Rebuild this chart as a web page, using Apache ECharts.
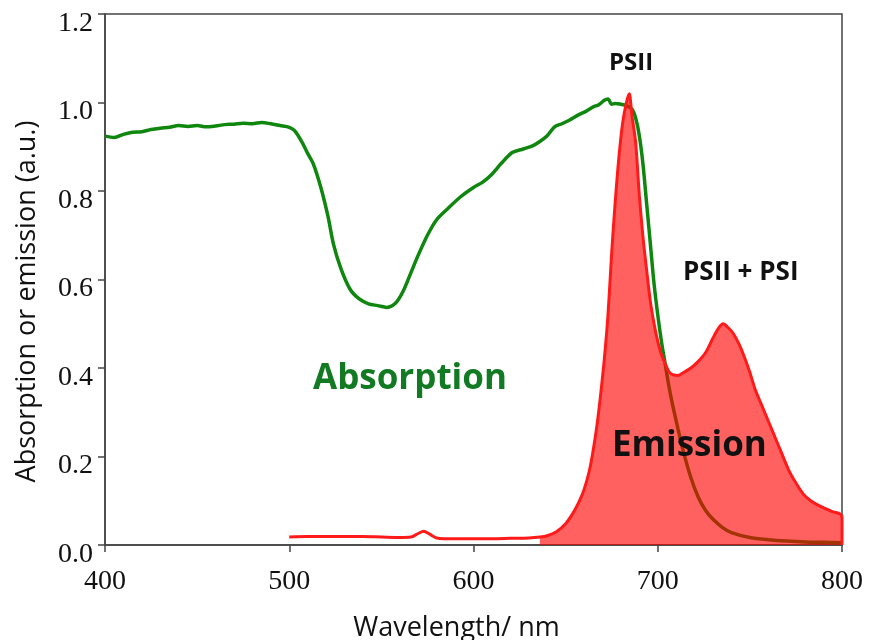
<!DOCTYPE html>
<html>
<head>
<meta charset="utf-8">
<script src="https://cdn.jsdelivr.net/npm/echarts@6/dist/echarts.min.js"></script>
<style>
  html, body { margin: 0; padding: 0; background: #fff; }
  #main { width: 870px; height: 640px; }
</style>
</head>
<body>
<div id="main"></div>
<script>
// absorption spectrum (green)
var absWl = [400, 405, 410, 415, 420, 425, 430, 435, 440, 445, 450, 455, 460, 465, 470, 475, 480, 485, 490, 495,
  500, 503, 507, 510, 513, 517, 521, 524, 528, 533, 538, 543, 548, 553, 558, 562, 566, 570, 575, 580,
  586, 593, 600, 605, 610, 615, 621, 627, 632, 636, 640, 644, 648, 652, 657, 661, 665, 668, 671, 673,
  675, 677, 680, 683, 686, 688, 690, 692, 694, 696, 698, 700, 702, 704, 706, 708, 711, 714, 718, 722,
  726, 730, 735, 740, 750, 760, 770, 780, 790, 800];
var absVal = [0.924, 0.921, 0.928, 0.933, 0.934, 0.939, 0.942, 0.944, 0.948, 0.946, 0.948, 0.945, 0.947, 0.950, 0.951, 0.953, 0.952, 0.955, 0.952, 0.948,
  0.944, 0.936, 0.910, 0.885, 0.862, 0.810, 0.743, 0.680, 0.625, 0.578, 0.556, 0.545, 0.541, 0.537, 0.548, 0.575, 0.615, 0.655, 0.700, 0.735,
  0.760, 0.787, 0.808, 0.820, 0.838, 0.862, 0.887, 0.895, 0.902, 0.912, 0.925, 0.945, 0.952, 0.960, 0.972, 0.980, 0.990, 0.995, 1.005, 1.008,
  0.996, 0.998, 0.996, 0.993, 0.985, 0.965, 0.925, 0.860, 0.770, 0.680, 0.590, 0.520, 0.460, 0.410, 0.360, 0.318, 0.262, 0.210, 0.152, 0.108,
  0.078, 0.058, 0.040, 0.028, 0.017, 0.012, 0.009, 0.007, 0.006, 0.005];

// fluorescence emission spectrum (red)
var emWl = [500, 510, 520, 530, 540, 550, 560, 566, 570, 573, 576, 580, 590, 600, 610, 620, 630, 636, 640, 645,
  650, 654, 657, 660, 663, 665, 667, 669, 671, 673, 675, 677, 679, 681, 683, 684.5, 686, 688, 690, 692,
  694, 696, 698, 700, 702, 704, 706, 708, 711, 714, 718, 722, 726, 730, 733, 735.5, 738, 741, 744, 747,
  750, 753, 756, 759, 763, 767, 771, 775, 779, 783, 787, 791, 795, 799, 800, 800];
var emVal = [0.018, 0.019, 0.019, 0.019, 0.019, 0.018, 0.017, 0.018, 0.026, 0.031, 0.025, 0.016, 0.014, 0.014, 0.014, 0.015, 0.016, 0.018, 0.021, 0.030,
  0.048, 0.072, 0.095, 0.125, 0.170, 0.215, 0.270, 0.340, 0.420, 0.520, 0.660, 0.780, 0.880, 0.955, 1.000, 1.020, 0.970, 0.910, 0.790, 0.695,
  0.620, 0.550, 0.500, 0.460, 0.430, 0.410, 0.392, 0.385, 0.383, 0.390, 0.400, 0.415, 0.435, 0.468, 0.490, 0.500, 0.492, 0.478, 0.455, 0.425,
  0.390, 0.350, 0.320, 0.290, 0.250, 0.210, 0.170, 0.140, 0.115, 0.100, 0.090, 0.082, 0.075, 0.070, 0.062, 0.0];

var xTicks = [400, 500, 600, 700, 800];
var yTicks = [0, 0.2, 0.4, 0.6, 0.8, 1.0, 1.2];

var absData = absWl.map(function (w, i) { return [w, absVal[i]]; });
var emData = emWl.map(function (w, i) { return [w, emVal[i]]; });
// the filled part only starts where the emission band rises
var emFill = emData.filter(function (d) { return d[0] >= 636; });

var serif = '"Liberation Serif", "DejaVu Serif", serif';
var sans = '"Open Sans", Lato, sans-serif';

var chart = echarts.init(document.getElementById('main'));
chart.setOption({
  animation: false,
  grid: {
    left: 105, right: 28, top: 14, bottom: 95,
    outerBoundsMode: 'none', containLabel: false,
    show: true, borderColor: '#444', borderWidth: 1.5, backgroundColor: 'transparent'
  },
  xAxis: {
    type: 'value',
    min: xTicks[0], max: xTicks[xTicks.length - 1], interval: 100,
    name: 'Wavelength/ nm',
    nameLocation: 'middle', nameGap: 70,
    nameTextStyle: { fontFamily: sans, fontSize: 27, color: '#111', padding: [0, 34, 0, 0] },
    axisLine: { lineStyle: { color: '#444', width: 1.5 } },
    axisTick: { inside: false, length: 7, lineStyle: { color: '#444', width: 1.5 } },
    axisLabel: { fontFamily: serif, fontSize: 28, color: '#111', margin: 23 },
    splitLine: { show: false }
  },
  yAxis: {
    type: 'value',
    min: yTicks[0], max: yTicks[yTicks.length - 1], interval: 0.2,
    name: 'Absorption or emission (a.u.)',
    nameLocation: 'middle', nameGap: 64,
    nameTextStyle: { fontFamily: sans, fontSize: 27, color: '#111', padding: [0, 44, 0, 0] },
    axisLine: { show: true, lineStyle: { color: '#444', width: 1.5 } },
    axisTick: { show: true, inside: false, length: 7, lineStyle: { color: '#444', width: 1.5 } },
    axisLabel: {
      fontFamily: serif, fontSize: 28, color: '#111', margin: 12,
      verticalAlign: 'middle', lineHeight: 19,
      // labels sit just below their ticks in the original, so push them down a line
      formatter: function (v) { return '\n' + v.toFixed(1); }
    },
    splitLine: { show: false }
  },
  series: [
    {
      name: 'Absorption', type: 'line', data: absData,
      showSymbol: false, smooth: 0.3, z: 2,
      lineStyle: { color: '#0f870f', width: 3.5 }
    },
    {
      name: 'EmissionFill', type: 'line', data: emFill,
      showSymbol: false, smooth: 0.3, z: 3,
      lineStyle: { width: 0 },
      areaStyle: { color: 'rgba(255,0,0,0.62)', opacity: 1 }
    },
    {
      name: 'Emission', type: 'line', data: emData,
      showSymbol: false, smooth: 0.3, z: 4,
      lineStyle: { color: '#ff1a1a', width: 3 }
    }
  ],
  graphic: [
    { type: 'text', z: 100, left: 609, top: 51, style: { text: 'PSII', font: 'bold 24px ' + sans, fill: '#111' } },
    { type: 'text', z: 100, left: 683, top: 260, style: { text: 'PSII + PSI', font: 'bold 26px ' + sans, fill: '#111' } },
    { type: 'text', z: 100, left: 313, top: 362, style: { text: 'Absorption', font: 'bold 35px ' + sans, fill: '#117a22' } },
    { type: 'text', z: 100, left: 612, top: 429, style: { text: 'Emission', font: 'bold 35px ' + sans, fill: '#111' } }
  ]
});
</script>
</body>
</html>
